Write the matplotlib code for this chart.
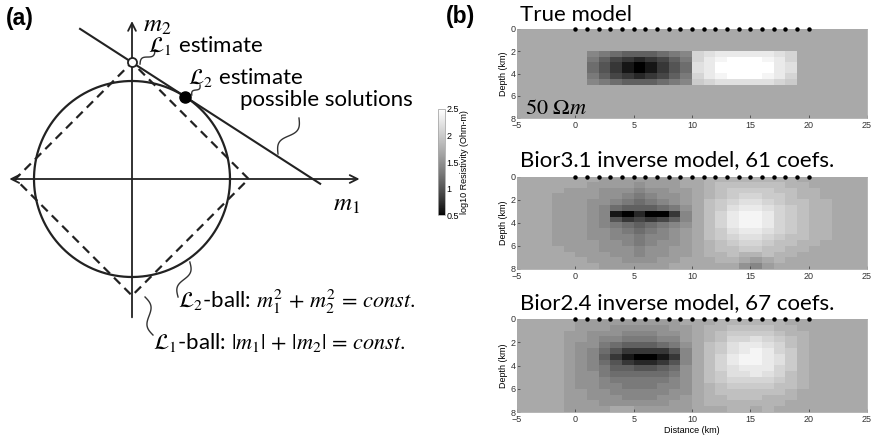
import numpy as np
import matplotlib
matplotlib.use('Agg')
import matplotlib.pyplot as plt
from matplotlib.colors import ListedColormap

plt.rcParams['font.family'] = ['Lato', 'DejaVu Sans']
plt.rcParams['mathtext.fontset'] = 'stix'

# ---- panel (a) geometry (units of circle radius)
circle_radius = 1.0
diamond_radius = 1.19
line_x = [-0.53, 1.92]

# ---- panel (b) data: resistivity in levels k, log10(rho) = 0.5 + 0.1*k
background_k = 12  # 50 Ohm-m
x_range = (-5, 25)
depth_range = (0, 8)
electrodes_x = np.arange(0, 21)

# true model blocks (depth 2-5 km in 0.5 km rows, 1 km columns)
true_dark = [
    [9, 8, 7, 6, 6, 6, 7, 8, 9],
    [8, 6, 4, 3, 2, 3, 4, 6, 8],
    [7, 5, 3, 1, 0, 1, 3, 5, 7],
    [7, 5, 3, 1, 0, 1, 3, 5, 7],
    [8, 6, 4, 3, 2, 3, 4, 6, 8],
    [9, 8, 7, 6, 6, 6, 7, 8, 9],
]
true_bright = [
    [16, 17, 18, 18, 18, 18, 18, 17, 16],
    [16, 18, 19, 20, 20, 20, 19, 18, 16],
    [17, 18, 20, 20, 20, 20, 20, 18, 17],
    [17, 18, 20, 20, 20, 20, 20, 18, 17],
    [16, 18, 19, 20, 20, 20, 19, 18, 16],
    [15, 16, 17, 17, 17, 17, 17, 16, 15],
]
dark_x0, bright_x0, block_depth0 = 1, 10, 2

bior31 = [
    [12,12,12,12,12,12,12,11,11,11,11,11,11,11,12,12,13,13,13,13,13,13,13,13,12,12,12,12,12,12],
    [12,12,12,12,12,12,11,11,11,11,10,11,11,11,12,12,13,14,14,14,14,14,14,13,13,12,12,12,12,12],
    [12,12,12,12,11,11,11,10,10,10, 9,10,10,11,11,12,13,14,15,15,15,15,14,14,13,13,12,12,12,12],
    [12,12,12,11,11,11,11,10,10, 9, 8, 9,10,10,11,12,13,14,15,16,16,15,15,14,13,13,12,12,12,12],
    [12,12,12,11,11,11,10,10, 9, 8, 7, 8, 9,10,11,12,14,15,16,17,17,16,15,14,14,13,13,12,12,12],
    [12,12,12,11,11,11,10, 9, 7, 6, 6, 6, 7, 8,10,12,14,15,17,18,18,17,16,15,14,13,13,12,12,12],
    [12,12,12,11,11,11,10, 9, 1, 0, 2, 0, 0, 3, 9,12,14,16,18,19,19,18,16,15,14,13,13,12,12,12],
    [12,12,12,11,11,11,10, 9, 5, 3, 4, 3, 4, 6, 9,12,14,16,18,19,19,18,16,15,14,13,13,12,12,12],
    [12,12,12,11,11,11,10, 9, 8, 7, 6, 7, 8, 9,10,12,14,16,18,19,19,18,16,15,14,13,13,12,12,12],
    [12,12,12,11,11,11,10,10, 9, 8, 7, 8, 9,10,11,12,14,15,17,18,18,17,16,15,14,13,13,12,12,12],
    [12,12,12,11,11,11,10,10, 9, 9, 8, 9, 9,10,11,12,14,15,16,17,17,16,15,14,14,13,13,12,12,12],
    [12,12,12,11,11,11,11,10,10, 9, 8, 9,10,10,11,12,13,14,15,16,16,15,14,14,13,13,12,12,12,12],
    [12,12,12,12,11,11,11,10,10,10, 9,10,10,11,11,12,13,14,14,15,15,14,14,13,13,12,12,12,12,12],
    [12,12,12,12,12,11,11,11,10,10, 9,10,10,11,11,12,13,13,14,13,13,14,13,13,12,12,12,12,12,12],
    [12,12,12,12,12,12,11,11,11,10,10,10,11,11,12,12,12,13,13,12,11,12,13,12,12,12,12,12,12,12],
    [12,12,12,12,12,12,12,11,11,11,11,11,11,12,12,12,12,12,12,10, 9,11,12,12,12,12,12,12,12,12],
]

bior24 = [
    [12,12,12,12,12,11,11,11,11,11,11,11,11,11,12,12,12,13,13,13,13,13,13,12,12,12,12,12,12,12],
    [12,12,12,12,12,11,11,11,10,10,10,10,10,11,11,12,13,13,14,14,14,14,13,13,12,12,12,12,12,12],
    [12,12,12,12,11,11,10,10,10, 9, 9, 9,10,10,11,12,13,14,15,15,15,15,14,13,13,12,12,12,12,12],
    [12,12,12,12,11,11,10, 9, 9, 8, 8, 8, 9, 9,11,12,13,14,16,16,17,16,15,14,13,12,12,12,12,12],
    [12,12,12,12,11,10,10, 8, 7, 6, 6, 6, 7, 8,10,12,14,15,17,18,18,17,16,14,13,12,12,12,12,12],
    [12,12,12,12,11,10, 9, 7, 5, 3, 3, 3, 3, 5, 9,12,14,15,17,18,19,18,16,15,13,12,12,12,12,12],
    [12,12,12,12,11,10, 9, 6, 3, 1, 0, 0, 1, 3, 9,12,14,16,18,19,19,18,17,15,13,12,12,12,12,12],
    [12,12,12,12,11,10, 9, 7, 5, 3, 2, 2, 3, 5, 9,12,14,16,18,19,19,18,17,15,13,12,12,12,12,12],
    [12,12,12,12,11,10, 9, 8, 6, 6, 5, 5, 6, 7,10,12,14,16,17,18,18,18,16,15,13,12,12,12,12,12],
    [12,12,12,12,11,10,10, 8, 7, 7, 7, 7, 7, 8,10,12,14,15,17,17,18,17,16,14,13,12,12,12,12,12],
    [12,12,12,12,11,10,10, 9, 8, 8, 8, 8, 8, 9,10,12,14,15,16,16,16,16,15,14,13,12,12,12,12,12],
    [12,12,12,12,11,10,10, 9, 9, 8, 8, 8, 9, 9,10,12,13,14,15,15,15,15,14,14,13,12,12,12,12,12],
    [12,12,12,12,11,11,10,10, 9, 9, 9, 9, 9,10,10,12,13,14,14,14,14,14,14,13,12,12,12,12,12,12],
    [12,12,12,12,11,11,10,10,10, 9, 9, 9,10,10,11,12,13,13,14,14,14,13,13,13,12,12,12,12,12,12],
    [12,12,12,12,11,11,11,10,10,10,10,10,10,11,11,12,13,13,13,13,13,13,13,12,12,12,12,12,12,12],
    [12,12,12,12,11,11,11,11,12,12,11,11,11,11,11,12,12,12,13,13,12,13,12,12,12,12,12,12,12,12],
]

titles = ['True model', 'Bior3.1 inverse model, 61 coefs.', 'Bior2.4 inverse model, 67 coefs.']


def to_log_rho(k):
    return 0.5 + 0.1 * np.asarray(k, dtype=float)


def true_model():
    grid = np.full((16, 30), background_k, dtype=float)
    r0 = int(block_depth0 / 0.5)
    d = np.array(true_dark)
    b = np.array(true_bright)
    c_d = dark_x0 - x_range[0]
    c_b = bright_x0 - x_range[0]
    grid[r0:r0 + d.shape[0], c_d:c_d + d.shape[1]] = d
    grid[r0:r0 + b.shape[0], c_b:c_b + b.shape[1]] = b
    return grid


def squiggle(ax, p0, p1, amp=0.05):
    p0, p1 = np.array(p0), np.array(p1)
    t = np.linspace(0, 1, 40)
    v = p1 - p0
    n = np.array([-v[1], v[0]]) / np.hypot(*v)
    pts = p0 + np.outer(t, v) + np.outer(amp * np.sin(2 * np.pi * t), n)
    ax.plot(pts[:, 0], pts[:, 1], color='#333333', lw=1.0)


# slightly lifted grey ramp, the scanned figure is lighter than a plain 'gray'
ramp = np.linspace(0, 1, 256) ** 0.8
light_gray = ListedColormap(np.column_stack([ramp, ramp, ramp]))

fig = plt.figure(figsize=(8.76, 4.42), dpi=100)

# ---------------- panel (a)
W, H = 876, 442
ax = fig.add_axes([0, 0, 420 / W, 1])
ax.set_xlim(-132 / 98, (420 - 132) / 98)
ax.set_ylim((179 - 442) / 98, 179 / 98)
ax.axis('off')

ink = '#222222'
ax.annotate('', xy=(2.35, 0), xytext=(-1.28, 0),
            arrowprops=dict(arrowstyle='<->', lw=1.3, color=ink, mutation_scale=14))
ax.annotate('', xy=(0, 1.64), xytext=(0, -1.44),
            arrowprops=dict(arrowstyle='->', lw=1.3, color=ink, mutation_scale=14))

th = np.linspace(0, 2 * np.pi, 400)
ax.plot(circle_radius * np.cos(th), circle_radius * np.sin(th), color=ink, lw=1.6)
r = diamond_radius
ax.plot([r, 0, -r, 0, r], [0, r, 0, -r, 0], color=ink, lw=1.6, ls=(0, (4, 2.6)))

slope = np.sqrt(diamond_radius ** 2 / circle_radius ** 2 - 1)
lx = np.array(line_x)
ax.plot(lx, diamond_radius - slope * lx, color=ink, lw=1.5)
tang = diamond_radius * np.array([slope, 1]) / (1 + slope ** 2)
ax.plot(0, diamond_radius, 'o', ms=6.5, mfc='white', mec=ink, mew=1.3, zorder=5)
ax.plot(tang[0], tang[1], 'o', ms=8, color='black', zorder=5)

ax.text(0.11, 1.57, r'$m_2$', fontsize=18, va='center', ha='left')
ax.text(2.05, -0.265, r'$m_1$', fontsize=18, va='center', ha='left')
ax.text(0.16, 1.36, r'$\mathcal{L}_1$ estimate', fontsize=16, va='center', ha='left')
ax.text(0.57, 1.04, r'$\mathcal{L}_2$ estimate', fontsize=16, va='center', ha='left')
ax.text(1.10, 0.81, 'possible solutions', fontsize=16, va='center', ha='left')
ax.text(0.47, -1.255, r'$\mathcal{L}_2$-ball: $m_1^2\,+\,m_2^2\,=\,const.$', fontsize=16,
        va='center', ha='left')
ax.text(0.21, -1.67, r'$\mathcal{L}_1$-ball: $|m_1|\,+\,|m_2|\,=\,const.$', fontsize=16,
        va='center', ha='left')

squiggle(ax, (0.082, 1.173), (0.235, 1.316), 0.03)
squiggle(ax, (0.61, 0.857), (0.694, 0.959), 0.02)
squiggle(ax, (1.704, 0.622), (1.49, 0.255), 0.05)
squiggle(ax, (0.59, -0.847), (0.47, -1.204), 0.04)
squiggle(ax, (0.133, -1.204), (0.214, -1.592), 0.04)

label_font = ['Liberation Sans', 'DejaVu Sans']
fig.text(6 / W, 1 - 19 / H, '(a)', fontsize=16.5, fontweight='bold', va='center',
         ha='left', family=label_font)
fig.text(446 / W, 1 - 17 / H, '(b)', fontsize=16.5, fontweight='bold', va='center',
         ha='left', family=label_font)

# ---------------- panel (b)
grids = [true_model(), np.array(bior31, float), np.array(bior24, float)]
boxes = [(29, 118), (177, 269), (319, 412)]
title_y = [15, 160, 303]
tick_font = ['Liberation Sans', 'DejaVu Sans']
im = None
for i, (g, (top, bot)) in enumerate(zip(grids, boxes)):
    a = fig.add_axes([517 / W, 1 - bot / H, 350 / W, (bot - top) / H])
    im = a.imshow(to_log_rho(g), cmap=light_gray, vmin=0.5, vmax=2.5, aspect='auto',
                  extent=(x_range[0], x_range[1], depth_range[1], depth_range[0]),
                  interpolation='nearest')
    a.plot(electrodes_x, np.zeros_like(electrodes_x), 'o', ms=2.2, color='black',
           clip_on=False, zorder=5)
    a.set_xticks(np.arange(-5, 26, 5))
    a.set_yticks(np.arange(0, 9, 2))
    a.tick_params(labelsize=6.5, length=2, width=0.5, pad=1, direction='in', colors='#333333')
    a.tick_params(axis='x', pad=2.5)
    for lab in a.get_xticklabels() + a.get_yticklabels():
        lab.set_family(tick_font)
    a.set_ylabel('Depth (km)', fontsize=6.5, family=tick_font, labelpad=2)
    for s in a.spines.values():
        s.set_color('#aaaaaa')
        s.set_linewidth(0.6)
    fig.text(520 / W, 1 - title_y[i] / H, titles[i], fontsize=16,
             va='center', ha='left')
    if i == 0:
        a.text(-4.3, 7.1, r'$50\ \Omega m$', fontsize=16, va='center', ha='left')
    if i == 2:
        a.set_xlabel('Distance (km)', fontsize=6.5, family=tick_font, labelpad=1)

cax = fig.add_axes([438 / W, 1 - 215 / H, 7 / W, 106 / H])
cb = fig.colorbar(im, cax=cax, ticks=[0.5, 1, 1.5, 2, 2.5])
cb.ax.set_yticklabels(['0.5', '1', '1.5', '2', '2.5'], family=tick_font)
cb.ax.tick_params(labelsize=6.5, length=0, pad=1)
cb.set_label('log10 Resistivity (Ohm-m)', fontsize=6.5, family=tick_font, labelpad=1)
cb.outline.set_edgecolor('#aaaaaa')
cb.outline.set_linewidth(0.6)

fig.savefig('out.png', dpi=100)
